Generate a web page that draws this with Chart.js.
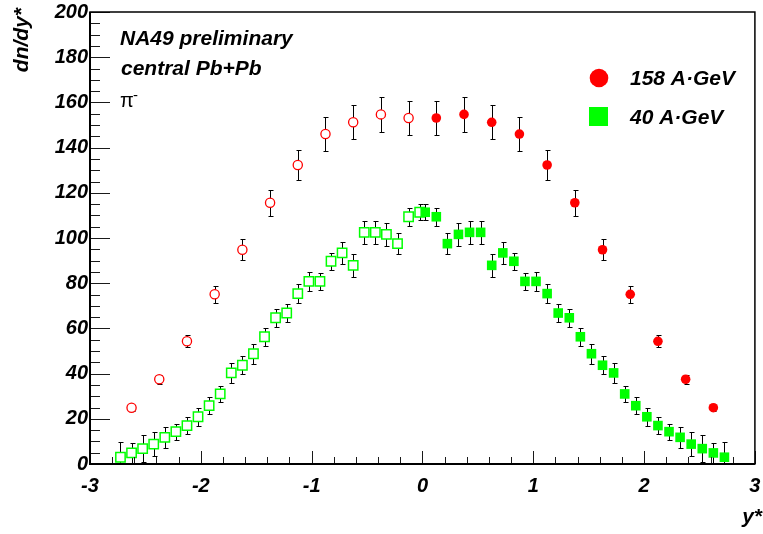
<!DOCTYPE html>
<html lang="en">
<head>
<meta charset="UTF-8">
<title>NA49 preliminary: pi- dn/dy* in central Pb+Pb</title>
<script src="https://cdn.jsdelivr.net/npm/chart.js@4.4.0/dist/chart.umd.min.js"></script>
<style>
    html, body { margin: 0; padding: 0; background: #fff; }
    #wrap { width: 763px; height: 534px; }
</style>
</head>
<body>
<div id="wrap"><canvas id="dndy" width="763" height="534"></canvas></div>
<script>
// forward hemisphere points (filled markers); backward ones are the reflection (open markers)
const yStar158 = [0.125, 0.375, 0.625, 0.875, 1.125, 1.375, 1.625, 1.875, 2.125, 2.375, 2.625];
const dndy158  = [153.1, 154.7, 151.2, 146.0, 132.3, 115.6, 94.8, 75.1, 54.3, 37.5, 24.9];
const err158   = [7.7, 7.7, 7.5, 7.4, 6.6, 5.8, 4.7, 3.8, 2.7, 1.9, 1.3];

const yStar40 = [0.025, 0.125, 0.225, 0.325, 0.425, 0.525, 0.625, 0.725, 0.825, 0.925,
                 1.025, 1.125, 1.225, 1.325, 1.425, 1.525, 1.625, 1.725, 1.825, 1.925,
                 2.025, 2.125, 2.225, 2.325, 2.425, 2.525, 2.625, 2.725];
const dndy40  = [111.4, 109.4, 97.5, 101.6, 102.5, 102.5, 87.9, 93.4, 89.7, 80.8,
                 80.8, 75.4, 66.8, 64.7, 56.3, 48.8, 43.7, 40.3, 31.0, 25.8,
                 20.9, 17.0, 14.3, 11.8, 8.8, 6.8, 4.9, 3.0];
const err40   = [3.6, 3.9, 4.8, 5.0, 5.2, 5.0, 5.0, 4.9, 3.8, 3.9,
                 4.1, 4.1, 4.1, 4.1, 4.0, 4.4, 3.9, 4.4, 3.5, 3.8,
                 4.1, 3.9, 3.6, 4.6, 5.2, 6.0, 4.6, 6.6];

const xTickValues = [-3, -2, -1, 0, 1, 2, 3];
const yTickValues = [0, 20, 40, 60, 80, 100, 120, 140, 160, 180, 200];

const RED = '#ff0000';
const GREEN = '#00ff00';
const FONT = '"Liberation Sans", Arial, Helvetica, sans-serif';

function points(xs, ys, errs, sign) {
    return xs.map((v, i) => ({ x: sign * v, y: ys[i], err: errs[i] }));
}

// vertical error bars with small caps, drawn under the markers
const errorBars = {
    id: 'errorBars',
    beforeDatasetsDraw(chart) {
        const { ctx, chartArea: a, scales: { x, y } } = chart;
        ctx.save();
        ctx.beginPath();
        ctx.rect(a.left, a.top, a.right - a.left, a.bottom - a.top);
        ctx.clip();
        ctx.strokeStyle = '#000';
        ctx.lineWidth = 1;
        chart.data.datasets.forEach(ds => {
            ds.data.forEach(p => {
                const px = Math.round(x.getPixelForValue(p.x)) + 0.5;
                const top = Math.round(y.getPixelForValue(p.y + p.err)) + 0.5;
                const bot = Math.round(y.getPixelForValue(p.y - p.err)) + 0.5;
                ctx.beginPath();
                ctx.moveTo(px, top); ctx.lineTo(px, bot);
                ctx.moveTo(px - 2, top); ctx.lineTo(px + 3, top);
                ctx.moveTo(px - 2, bot); ctx.lineTo(px + 3, bot);
                ctx.stroke();
            });
        });
        ctx.restore();
    }
};

// ROOT-like frame: inward ticks, box, labels and legend
const frameAndText = {
    id: 'frameAndText',
    afterDraw(chart) {
        const { ctx, chartArea: a, scales: { x, y } } = chart;
        ctx.save();
        ctx.strokeStyle = '#1a1a1a';
        ctx.lineWidth = 1;
        ctx.beginPath();
        for (let i = 0; i <= 30; i++) {
            const px = Math.round(x.getPixelForValue(-3 + i * 0.2)) + 0.5;
            const len = i % 5 === 0 ? 13 : 7;
            ctx.moveTo(px, a.bottom); ctx.lineTo(px, a.bottom - len);
        }
        for (let i = 0; i <= 40; i++) {
            const py = Math.round(y.getPixelForValue(i * 5)) + 0.5;
            const len = i % 4 === 0 ? 20 : 10;
            ctx.moveTo(a.left, py); ctx.lineTo(a.left + len, py);
        }
        ctx.stroke();

        ctx.strokeStyle = '#000';
        ctx.lineWidth = 1.5;
        ctx.strokeRect(a.left, a.top, a.right - a.left, a.bottom - a.top);
        ctx.lineWidth = 2;
        ctx.beginPath();
        ctx.moveTo(a.left, a.top); ctx.lineTo(a.left, a.bottom); ctx.lineTo(a.right, a.bottom);
        ctx.stroke();

        ctx.fillStyle = '#000';
        ctx.textAlign = 'left';
        ctx.textBaseline = 'alphabetic';
        ctx.font = 'italic bold 21px ' + FONT;
        ctx.fillText('NA49 preliminary', 120, 45);
        ctx.fillText('central Pb+Pb', 121, 75);
        ctx.font = '20px ' + FONT;
        ctx.fillText('\u03c0', 120, 107);
        ctx.font = '15px ' + FONT;
        ctx.fillText('-', 133, 100);

        // legend
        ctx.fillStyle = RED;
        ctx.beginPath();
        ctx.arc(599, 78, 9.3, 0, Math.PI * 2);
        ctx.fill();
        ctx.fillStyle = GREEN;
        ctx.fillRect(589, 107, 19, 19);
        ctx.fillStyle = '#000';
        ctx.font = 'italic bold 21px ' + FONT;
        ctx.fillText('158 A\u00b7GeV', 630, 85);
        ctx.fillText('40 A\u00b7GeV', 630, 124);

        // axis titles
        ctx.textAlign = 'right';
        ctx.fillText('y*', 762, 523);
        ctx.save();
        ctx.translate(28, 8);
        ctx.rotate(-Math.PI / 2);
        ctx.fillText('dn/dy*', 0, 0);
        ctx.restore();
        ctx.restore();
    }
};

const tickFont = { family: FONT, size: 20, weight: 'bold', style: 'italic' };

// keep the plot frame fixed: no automatic room for overhanging end labels
function noEdgePadding(s) {
    s.paddingLeft = 0; s.paddingRight = 0; s.paddingTop = 0; s.paddingBottom = 0;
}

new Chart(document.getElementById('dndy'), {
    type: 'scatter',
    data: {
        datasets: [
            {
                label: '158 A·GeV',
                data: points(yStar158, dndy158, err158, 1),
                pointStyle: 'circle', pointRadius: 4.8,
                backgroundColor: RED, borderColor: RED, borderWidth: 0
            },
            {
                label: '158 A·GeV reflected',
                data: points(yStar158, dndy158, err158, -1),
                pointStyle: 'circle', pointRadius: 4.6,
                backgroundColor: '#fff', borderColor: RED, borderWidth: 1.3
            },
            {
                label: '40 A·GeV',
                data: points(yStar40, dndy40, err40, 1),
                pointStyle: 'rect', pointRadius: 6.8,
                backgroundColor: GREEN, borderColor: GREEN, borderWidth: 0
            },
            {
                label: '40 A·GeV reflected',
                data: points(yStar40, dndy40, err40, -1),
                pointStyle: 'rect', pointRadius: 6.6,
                backgroundColor: '#fff', borderColor: GREEN, borderWidth: 1.5
            }
        ]
    },
    options: {
        responsive: false,
        animation: false,
        events: [],
        layout: { padding: { left: 0, top: 12, right: 5, bottom: 0 } },
        plugins: {
            legend: { display: false },
            tooltip: { enabled: false }
        },
        scales: {
            x: {
                type: 'linear', min: -3, max: 3,
                afterBuildTicks: s => { s.ticks = xTickValues.map(v => ({ value: v })); },
                afterFit: s => { s.height = 70; noEdgePadding(s); },
                grid: { display: false, drawTicks: false },
                border: { display: false },
                ticks: { font: tickFont, color: '#000', padding: 10, maxRotation: 0 }
            },
            y: {
                type: 'linear', min: 0, max: 200,
                afterBuildTicks: s => { s.ticks = yTickValues.map(v => ({ value: v })); },
                afterFit: s => { s.width = 90; noEdgePadding(s); },
                grid: { display: false, drawTicks: false },
                border: { display: false },
                ticks: { font: tickFont, color: '#000', padding: 2 }
            }
        }
    },
    plugins: [errorBars, frameAndText]
});
</script>
</body>
</html>
